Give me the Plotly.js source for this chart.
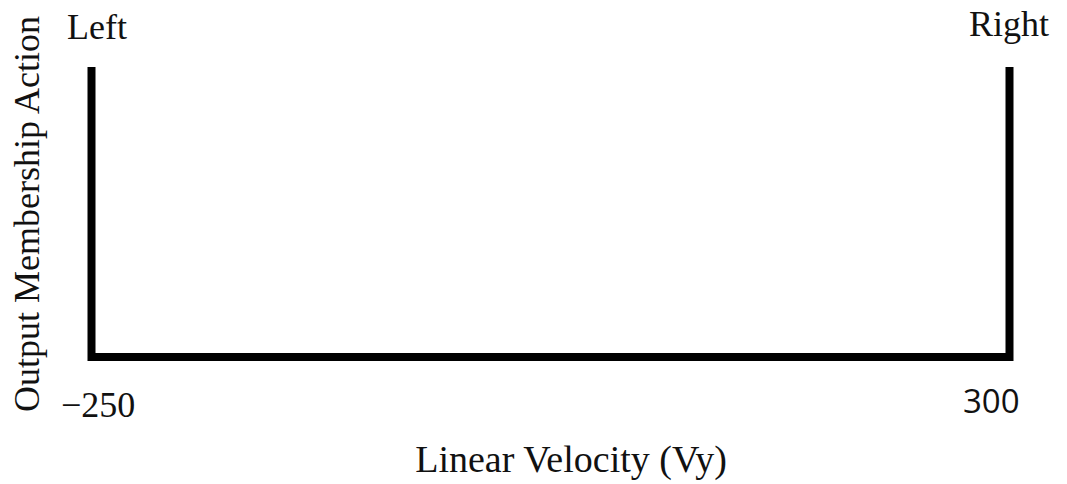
<!DOCTYPE html>
<html>
<head>
<meta charset="utf-8">
<script src="https://cdn.plot.ly/plotly-3.0.1.min.js"></script>
<style>html,body{margin:0;padding:0;background:#fff;}#chart{width:1067px;height:484px;}</style>
</head>
<body>
<div id="chart"></div>
<script>
// Data
const velocity = [-250, -250, 300, 300];
const membership = [1, 0, 0, 1];
const tickValues = [-250, 300];
const tickLabels = ['\u2212250', '300'];
const setNames = ['Left', 'Right'];
const setPositions = [-250, 300];
const xTitle = 'Linear Velocity (Vy)';
const yTitle = 'Output Membership Action';

const serif = 'Liberation Serif, Times New Roman, serif';

const trace = {
  x: velocity, y: membership, type: 'scatter', mode: 'lines',
  line: {color: '#000', width: 8}, hoverinfo: 'skip', showlegend: false
};

const annotations = [
  {x: setPositions[0], y: 1, xref: 'x', yref: 'y', text: setNames[0], showarrow: false,
   xanchor: 'center', yanchor: 'middle', xshift: 5, yshift: 40, font: {family: serif, size: 36, color: '#111'}},
  {x: setPositions[1], y: 1, xref: 'x', yref: 'y', text: setNames[1], showarrow: false,
   xanchor: 'center', yanchor: 'middle', xshift: -1, yshift: 43, font: {family: serif, size: 36, color: '#111'}},
  {x: tickValues[0], y: 0, xref: 'x', yref: 'y', text: tickLabels[0], showarrow: false,
   xanchor: 'center', yanchor: 'middle', xshift: 6, yshift: -48, font: {family: serif, size: 36, color: '#111'}},
  {x: tickValues[1], y: 0, xref: 'x', yref: 'y', text: tickLabels[1], showarrow: false,
   xanchor: 'center', yanchor: 'middle', xshift: -18, yshift: -43, font: {family: 'Open Sans, sans-serif', size: 33, color: '#111'}}
];

const layout = {
  width: 1067, height: 484,
  margin: {l: 82, r: 7, t: 48, b: 104},
  paper_bgcolor: '#fff', plot_bgcolor: '#fff',
  showlegend: false,
  xaxis: {
    range: [-255.69, 330.256], showgrid: false, zeroline: false, showline: false,
    showticklabels: false, ticks: '', fixedrange: true,
    title: {text: xTitle, font: {family: serif, size: 38, color: '#111'}, standoff: 65}
  },
  yaxis: {
    range: [-0.0793, 1.0655], showgrid: false, zeroline: false, showline: false,
    showticklabels: false, ticks: '', fixedrange: true,
    title: {text: yTitle, font: {family: serif, size: 36, color: '#111'}, standoff: 30}
  },
  annotations: annotations
};

Plotly.newPlot('chart', [trace], layout, {staticPlot: true, displayModeBar: false});
</script>
</body>
</html>
